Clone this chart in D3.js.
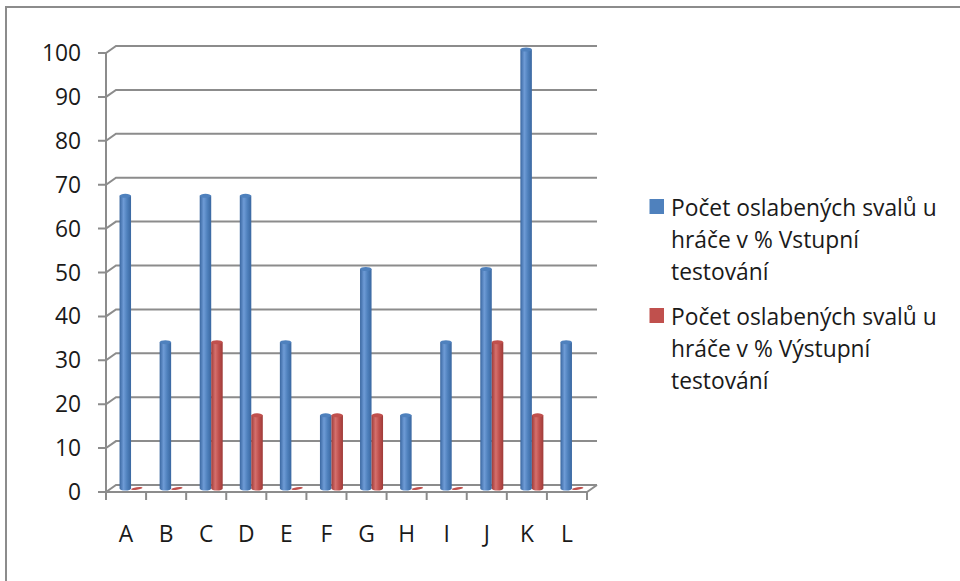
<!DOCTYPE html>
<html>
<head>
<meta charset="utf-8">
<script src="https://cdn.jsdelivr.net/npm/d3@7"></script>
<style>
  html, body { margin: 0; padding: 0; background: #fff; }
  svg { display: block; }
  text { font-family: "Open Sans", Lato, sans-serif; fill: #1a1a1a; }
</style>
</head>
<body>
<svg id="chart" width="960" height="581"></svg>
<script>
// Players A–L
const categories = ["A", "B", "C", "D", "E", "F", "G", "H", "I", "J", "K", "L"];
// Share of weakened muscles per player (%), entry testing
const entryValues = [66.67, 33.33, 66.67, 66.67, 33.33, 16.67, 50, 16.67, 33.33, 50, 100, 33.33];
// Share of weakened muscles per player (%), exit testing
const exitValues = [0, 0, 33.33, 16.67, 0, 16.67, 16.67, 0, 0, 33.33, 16.67, 0];
const yTicks = [0, 10, 20, 30, 40, 50, 60, 70, 80, 90, 100];
const seriesNames = [
  ["Počet oslabených svalů u", "hráče v % Vstupní", "testování"],
  ["Počet oslabených svalů u", "hráče v % Výstupní", "testování"]
];
const seriesColors = [
  { base: "#4F81BD", dark: "#3A67A0", light: "#6E9BD6" },
  { base: "#C0504D", dark: "#9E3B39", light: "#D5706D" }
];

const svg = d3.select("#chart");
const gridColor = "#8C8C8C";
const fontSize = 22.8;

// frame around the chart area
svg.append("rect")
  .attr("x", 6).attr("y", 7).attr("width", 1100).attr("height", 1100)
  .attr("fill", "none").attr("stroke", gridColor).attr("stroke-width", 2);

// plot geometry with a small 3D depth offset
const plot = { left: 106, right: 587, bottom: 492, top: 53 };
const depth = { dx: 10, dy: -7 };

const x = d3.scaleBand().domain(categories).range([plot.left, plot.right]).padding(0);
const y = d3.scaleLinear().domain([0, 100]).range([plot.bottom, plot.top]);

const grid = svg.append("g").attr("fill", "none").attr("stroke", gridColor).attr("stroke-width", 2);

// value gridlines: front tick, diagonal to the back wall, back line
yTicks.forEach(t => {
  const yy = y(t);
  grid.append("path").attr("d",
    `M${plot.left - 8},${yy}H${plot.left}L${plot.left + depth.dx},${yy + depth.dy}H${plot.right + depth.dx}`);
});

// value axis
grid.append("line")
  .attr("x1", plot.left).attr("x2", plot.left)
  .attr("y1", y(100)).attr("y2", y(0));

// category axis front edge and right floor edge
grid.append("path").attr("d",
  `M${plot.left},${y(0)}H${plot.right}L${plot.right + depth.dx},${y(0) + depth.dy}`);

// category ticks at band boundaries
const bounds = categories.map(c => x(c)).concat([plot.right]);
bounds.forEach(bx => {
  grid.append("line").attr("x1", bx).attr("x2", bx)
    .attr("y1", y(0)).attr("y2", y(0) + 8);
});

// tick labels
svg.append("g").selectAll("text").data(yTicks).join("text")
  .attr("x", 81).attr("y", d => y(d) + 8)
  .attr("text-anchor", "end").attr("font-size", fontSize)
  .text(d => d);

svg.append("g").selectAll("text").data(categories).join("text")
  .attr("x", d => x(d) + x.bandwidth() / 2)
  .attr("y", 542)
  .attr("text-anchor", "middle").attr("font-size", fontSize)
  .text(d => d);

// cylinder shading
const defs = svg.append("defs");
seriesColors.forEach((c, i) => {
  const g = defs.append("linearGradient").attr("id", "cyl" + i)
    .attr("x1", "0%").attr("x2", "100%").attr("y1", "0%").attr("y2", "0%");
  g.append("stop").attr("offset", "0%").attr("stop-color", c.dark);
  g.append("stop").attr("offset", "35%").attr("stop-color", c.light);
  g.append("stop").attr("offset", "65%").attr("stop-color", c.base);
  g.append("stop").attr("offset", "100%").attr("stop-color", c.dark);
});

const barW = 11.5;
const midX = depth.dx / 2, midY = depth.dy / 2;
const bars = svg.append("g");

[entryValues, exitValues].forEach((vals, si) => {
  const col = seriesColors[si];
  categories.forEach((c, i) => {
    const v = vals[i];
    const cx = x(c) + x.bandwidth() / 2 + midX;
    const x0 = si === 0 ? cx - barW : cx;
    const yBase = y(0) + midY;
    const yTop = y(v) + midY;
    const rx = barW / 2, ry = 2;
    if (v <= 0) {
      // empty value: flat disc on the floor
      bars.append("ellipse")
        .attr("cx", x0 + rx).attr("cy", yBase)
        .attr("rx", rx).attr("ry", 1.3)
        .attr("transform", `rotate(-8 ${x0 + rx} ${yBase})`)
        .attr("fill", col.base);
      return;
    }
    bars.append("path")
      .attr("d", `M${x0},${yTop}V${yBase}A${rx},${ry} 0 0 0 ${x0 + barW},${yBase}V${yTop}Z`)
      .attr("fill", `url(#cyl${si})`);
    bars.append("ellipse")
      .attr("cx", x0 + rx).attr("cy", yTop)
      .attr("rx", rx).attr("ry", ry)
      .attr("fill", col.base);
  });
});

// legend
const legend = svg.append("g");
const legendTops = [199, 308];
seriesNames.forEach((lines, i) => {
  const top = legendTops[i];
  legend.append("rect")
    .attr("x", 649.5).attr("y", top).attr("width", 14.5).attr("height", 15)
    .attr("fill", seriesColors[i].base);
  lines.forEach((ln, j) => {
    legend.append("text")
      .attr("x", 671).attr("y", top + 16.5 + j * 32.3)
      .attr("font-size", fontSize)
      .text(ln);
  });
});
</script>
</body>
</html>
